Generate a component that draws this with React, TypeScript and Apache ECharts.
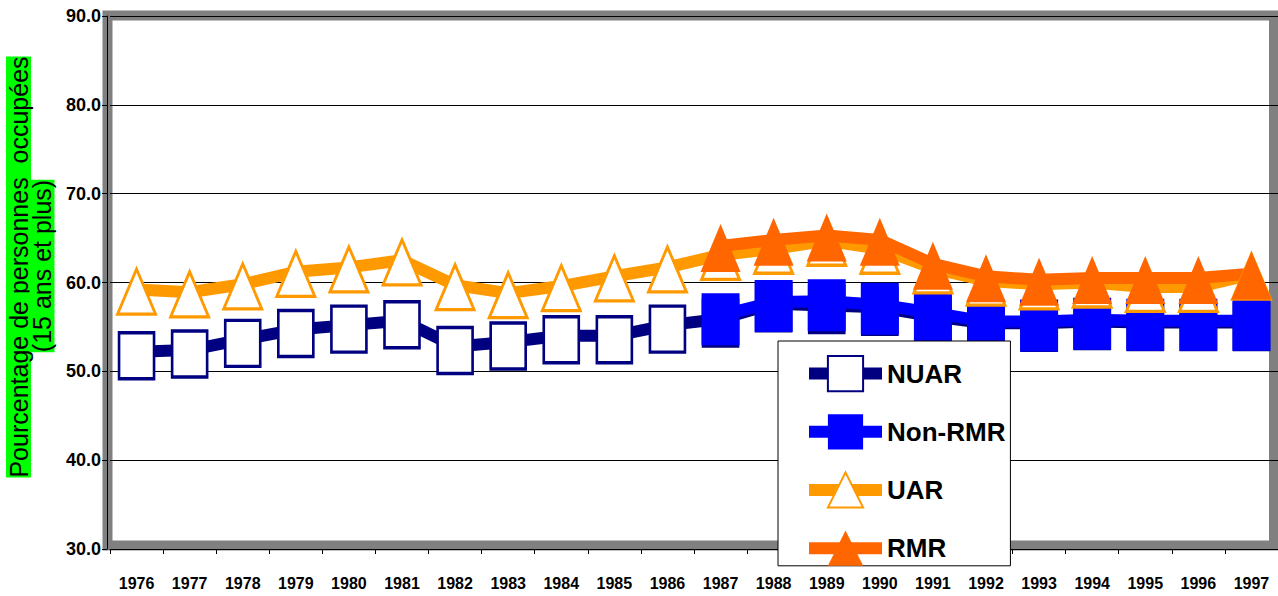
import React, { useEffect, useRef } from 'react';
import * as echarts from 'echarts';

const years = ['1976', '1977', '1978', '1979', '1980', '1981', '1982', '1983', '1984', '1985', '1986',
  '1987', '1988', '1989', '1990', '1991', '1992', '1993', '1994', '1995', '1996', '1997'];

const nuar = [52.2, 52.4, 53.6, 54.7, 55.2, 55.7, 52.8, 53.3, 54.0, 54.0, 55.2,
  55.9, 57.6, 57.4, 57.2, 56.2, 55.4, 55.4, 55.6, 55.5, 55.5, 55.5];
const nonRmr = [null, null, null, null, null, null, null, null, null, null, null,
  56.3, 57.8, 57.9, 57.5, 56.6, 55.6, 55.6, 55.8, 55.7, 55.7, 55.7];
const uar = [59.2, 58.9, 59.8, 61.2, 61.7, 62.5, 59.7, 58.8, 59.6, 60.7, 61.7,
  63.1, 63.8, 64.7, 63.8, 61.6, 60.2, 59.8, 60.0, 59.5, 59.5, 60.9];
const rmr = [null, null, null, null, null, null, null, null, null, null, null,
  64.1, 64.8, 65.3, 64.8, 62.1, 60.7, 60.3, 60.5, 60.5, 60.5, 61.0];

const yMin = 30;
const yMax = 90;
const yStep = 10;

const axisTitle1 = 'Pourcentage de personnes  occupées';
const axisTitle2 = '(15 ans et plus)';

const FONT = '"Liberation Sans", Arial, sans-serif';

export default function App() {
  const ref = useRef<HTMLDivElement>(null);
  useEffect(() => {
    if (!ref.current) return;
    const chart = echarts.init(ref.current, null, { renderer: 'svg' });
    const mk = (name: string, data: any[], symbol: string, size: number[], offsetY: number, color: string, hollow: boolean) => ({
      name,
      type: 'line',
      data,
      symbol,
      symbolSize: size,
      symbolOffset: [0, offsetY],
      showAllSymbol: true,
      connectNulls: false,
      color,
      z: 2,
      lineStyle: { color, width: 12 },
      itemStyle: hollow
        ? { color: '#ffffff', borderColor: color, borderWidth: 3 }
        : { color, borderWidth: 0 },
      emphasis: { disabled: true },
      silent: true,
    });
    chart.setOption({
      animation: false,
      backgroundColor: '#ffffff',
      grid: {
        left: 110,
        right: 0,
        top: 16,
        bottom: 47,
        show: false,
      },
      xAxis: {
        type: 'category',
        data: years,
        boundaryGap: true,
        z: 1,
        axisLine: { lineStyle: { color: '#000', width: 1 } },
        axisTick: { show: true, length: 5, lineStyle: { color: '#000' } },
        axisLabel: {
          interval: 0,
          margin: 26,
          color: '#000',
          fontWeight: 'bold',
          fontSize: 16,
          fontFamily: FONT,
        },
      },
      yAxis: {
        type: 'value',
        min: yMin,
        max: yMax,
        interval: yStep,
        offset: 3,
        z: 1,
        axisLine: { show: true, lineStyle: { color: '#000', width: 1 } },
        axisTick: { show: true, length: 5, lineStyle: { color: '#000' } },
        splitLine: { show: true, lineStyle: { color: '#000', width: 1 } },
        axisLabel: {
          margin: 6,
          color: '#000',
          fontWeight: 'bold',
          fontSize: 18,
          fontFamily: FONT,
          formatter: (v: number) => v.toFixed(1),
        },
      },
      legend: {
        orient: 'vertical',
        left: 778,
        top: 341,
        data: ['NUAR', 'Non-RMR', 'UAR', 'RMR'],
        itemWidth: 73,
        itemHeight: 44,
        itemGap: 22,
        padding: [14, 5, 0, 25],
        backgroundColor: '#ffffff',
        borderColor: '#000000',
        borderWidth: 1,
        borderRadius: 0,
        selectedMode: false,
        lineStyle: { width: 12 },
        textStyle: {
          color: '#000',
          fontWeight: 'bold',
          fontSize: 26,
          fontFamily: FONT,
        },
      },
      graphic: [
        {
          type: 'rect',
          z: 0,
          silent: true,
          shape: { x: 107.5, y: 15.5, width: 1166.5, height: 530 },
          style: { fill: 'none', stroke: '#808080', lineWidth: 10 },
        },
        {
          type: 'text',
          x: 18.5,
          y: 267,
          rotation: Math.PI / 2,
          style: {
            text: axisTitle1,
            font: '25px ' + FONT,
            fill: '#000',
            align: 'center',
            verticalAlign: 'middle',
            textAlign: 'center',
            textVerticalAlign: 'middle',
            backgroundColor: '#00ff00',
          },
        },
        {
          type: 'text',
          x: 42,
          y: 266,
          rotation: Math.PI / 2,
          style: {
            text: axisTitle2,
            font: '25px ' + FONT,
            fill: '#000',
            align: 'center',
            verticalAlign: 'middle',
            textAlign: 'center',
            textVerticalAlign: 'middle',
            backgroundColor: '#00ff00',
          },
        },
      ],
      series: [
        mk('NUAR', nuar, 'rect', [35, 46], 4, '#000080', true),
        mk('Non-RMR', nonRmr, 'rect', [38, 52], 4, '#0000ff', false),
        mk('UAR', uar, 'triangle', [38, 45], 2, '#ff9900', true),
        mk('RMR', rmr, 'triangle', [40, 48], 2, '#ff6600', false),
      ],
    });
    return () => chart.dispose();
  }, []);
  return (
    <div
      ref={ref}
      style={{ position: 'fixed', left: 0, top: 0, width: 1278, height: 596 }}
    />
  );
}
